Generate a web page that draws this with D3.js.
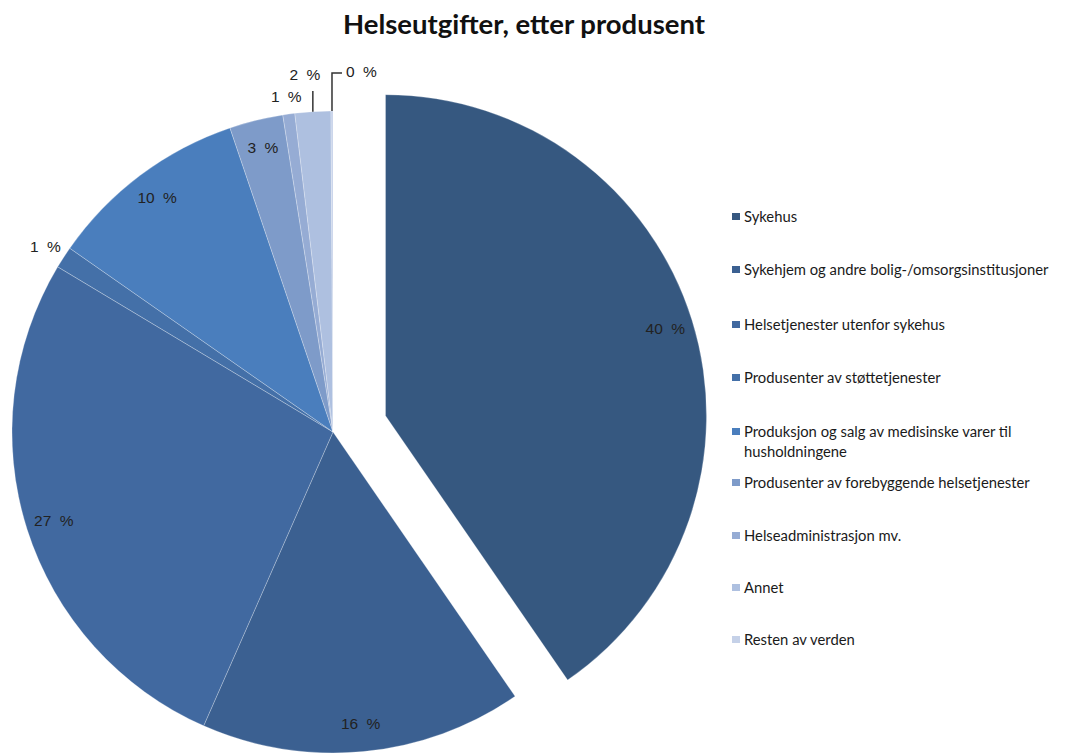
<!DOCTYPE html>
<html>
<head>
<meta charset="utf-8">
<script src="https://cdn.jsdelivr.net/npm/d3@7"></script>
<style>
  html, body { margin: 0; padding: 0; background: #fff; }
  svg { display: block; }
</style>
</head>
<body>
<svg id="chart" width="1073" height="754"></svg>
<script>
// ---- data ----
const categories = [
  "Sykehus",
  "Sykehjem og andre bolig-/omsorgsinstitusjoner",
  "Helsetjenester utenfor sykehus",
  "Produsenter av støttetjenester",
  "Produksjon og salg av medisinske varer til husholdningene",
  "Produsenter av forebyggende helsetjenester",
  "Helseadministrasjon mv.",
  "Annet",
  "Resten av verden"
];
const values = [40.4, 16.2, 27.0, 1.1, 10.1, 2.7, 0.6, 1.8, 0.1];
const colors = ["#365880", "#3b6091", "#4169a0", "#4470a8", "#4a7ebd", "#7e9bc9", "#96acd4", "#aec0e0", "#c5d1e8"];
const legendLines = [
  ["Sykehus"],
  ["Sykehjem og andre bolig-/omsorgsinstitusjoner"],
  ["Helsetjenester utenfor sykehus"],
  ["Produsenter av støttetjenester"],
  ["Produksjon og salg av medisinske varer til", "husholdningene"],
  ["Produsenter av forebyggende helsetjenester"],
  ["Helseadministrasjon mv."],
  ["Annet"],
  ["Resten av verden"]
];
const title = "Helseutgifter, etter produsent";

// ---- layout ----
const svg = d3.select("#chart");
const cx = 333, cy = 432, R = 321, explode = 55;
const labelR = 293;

const pie = d3.pie().sort(null).value(d => d).startAngle(0).endAngle(2 * Math.PI);
const arcs = pie(values);
const arc = d3.arc().innerRadius(0).outerRadius(R);

const g = svg.append("g").attr("transform", `translate(${cx},${cy})`);

function offsetOf(d, i) {
  if (i !== 0) return [0, 0];
  const m = (d.startAngle + d.endAngle) / 2;
  return [Math.sin(m) * explode, -Math.cos(m) * explode];
}

g.selectAll("path.slice")
  .data(arcs)
  .join("path")
  .attr("class", "slice")
  .attr("d", arc)
  .attr("transform", (d, i) => { const o = offsetOf(d, i); return `translate(${o[0]},${o[1]})`; })
  .attr("fill", (d, i) => colors[i])
  .attr("stroke", "rgba(255,255,255,0.25)")
  .attr("stroke-width", 1);

// labels
const labelFont = "'Liberation Sans', Arial, sans-serif";
const fmt = v => Math.round(v) + " %";
const pt = (a, r) => [Math.sin(a) * r, -Math.cos(a) * r];

arcs.forEach((d, i) => {
  const m = (d.startAngle + d.endAngle) / 2;
  const o = offsetOf(d, i);
  let x, y, anchor = "middle";
  if (i === 3) {
    [x, y] = pt(m, R + 20); anchor = "end"; x += 14;
  } else if (i === 6) {
    [x, y] = pt(m, R + 18);
  } else if (i === 7) {
    const p = pt(m, R);
    g.append("line").attr("x1", p[0]).attr("y1", p[1]).attr("x2", p[0]).attr("y2", 91 - cy)
      .attr("stroke", "#333").attr("stroke-width", 1.5);
    x = p[0] - 8; y = 75 - cy;
  } else if (i === 8) {
    const p = pt(m, R);
    g.append("path").attr("d", `M${p[0]},${p[1]}V${73 - cy}H${p[0] + 10}`)
      .attr("fill", "none").attr("stroke", "#333").attr("stroke-width", 1.5);
    x = p[0] + 14; y = 72 - cy; anchor = "start";
  } else {
    [x, y] = pt(m, labelR);
    x += o[0]; y += o[1];
  }
  g.append("text")
    .attr("x", x).attr("y", y)
    .attr("dy", "0.35em")
    .attr("text-anchor", anchor)
    .attr("font-family", labelFont)
    .attr("font-size", 15.5)
    .attr("word-spacing", 4)
    .attr("fill", "#222")
    .text(fmt(values[i]));
});

// title
svg.append("text")
  .attr("x", 524).attr("y", 34)
  .attr("text-anchor", "middle")
  .attr("font-family", "Lato, 'Open Sans', sans-serif")
  .attr("font-weight", "bold")
  .attr("font-size", 27.5)
  .attr("fill", "#111")
  .text(title);

// legend
const legendY = [217, 270, 325, 378, 432, 483, 536, 588, 640];
const lg = svg.append("g");
categories.forEach((c, i) => {
  const y = legendY[i];
  lg.append("rect").attr("x", 732).attr("y", y - 4).attr("width", 8).attr("height", 7).attr("fill", colors[i]);
  legendLines[i].forEach((line, j) => {
    lg.append("text")
      .attr("x", 744).attr("y", y + j * 20)
      .attr("dy", "0.35em")
      .attr("font-family", "Lato, 'Open Sans', sans-serif")
      .attr("font-size", 14.8)
      .attr("fill", "#1a1a1a")
      .text(line);
  });
});
</script>
</body>
</html>
